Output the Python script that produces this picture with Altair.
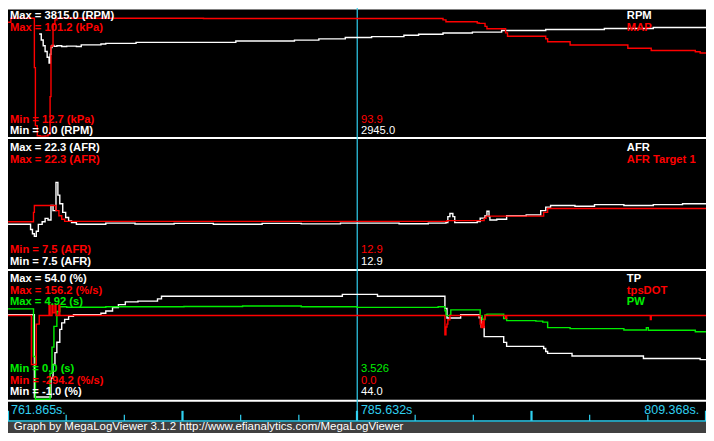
import altair as alt
import pandas as pd

# ---------------- data ----------------
T_START, T_CURSOR, T_END = 761.865, 785.632, 809.368

rpm_t = [763.99, 764.13, 764.26, 764.39, 764.53, 764.66, 764.73, 764.79, 764.86, 764.99,
         765.19, 765.52, 765.86, 766.52, 766.85, 768.19, 768.52, 770.58, 777.37, 781.36,
         783.02, 784.82, 786.61, 788.81, 789.81, 791.47, 793.47, 795.46, 798.46, 802.45,
         805.78, 809.37]
rpm_v = [3046, 2870, 2700, 2530, 2360, 2192, 2450, 2650, 2705, 2680,
         2700, 2676, 2690, 2676, 2725, 2753, 2770, 2799, 2838, 2867,
         2904, 2945, 2970, 3009, 3038, 3075, 3103, 3152, 3180, 3209,
         3237, 3237]

map_t = [761.87, 762.06, 763.60, 763.66, 763.73, 763.86, 764.06, 764.39, 764.59, 764.73,
         764.79, 764.93, 765.06, 765.19, 775.17, 785.63, 791.27, 791.47, 791.67, 793.80,
         793.93, 794.33, 794.46, 795.60, 795.73, 795.86, 798.46, 798.59, 800.12, 804.05,
         805.64, 808.64, 808.97, 809.37]
map_v = [91.4, 94.1, 94.1, 60.0, 20.0, 13.0, 12.7, 12.9, 13.8, 40.0,
         75.0, 90.0, 93.0, 94.1, 94.0, 93.9, 93.9, 93.0, 91.7, 90.8,
         90.6, 88.5, 86.9, 86.9, 84.0, 81.7, 80.0, 77.9, 75.7, 73.4,
         71.9, 71.0, 70.1, 70.1]

afr_t = [761.87, 763.20, 763.40, 763.53, 763.66, 763.79, 763.93, 764.19, 764.39, 764.59,
         764.79, 764.93, 765.13, 765.26, 765.39, 765.59, 765.79, 765.99, 766.19, 766.52,
         768.52, 770.51, 773.17, 775.84, 779.16, 781.82, 784.49, 785.63, 788.48, 790.47,
         791.67, 791.80, 791.94, 792.14, 792.27, 793.80, 794.00, 794.33, 794.46, 794.60,
         794.66, 795.13, 795.80, 797.13, 798.12, 798.46, 798.79, 800.45, 801.78, 803.78,
         805.78, 807.77, 809.37]
afr_v = [12.62, 12.62, 12.0, 11.5, 11.2, 11.8, 12.6, 12.9, 13.3, 13.1,
         14.8, 14.2, 17.48, 16.0, 15.0, 14.0, 13.4, 13.0, 12.8, 12.62,
         12.75, 12.65, 12.72, 12.62, 12.72, 12.66, 12.75, 12.75, 12.68, 12.75,
         12.8, 13.5, 13.86, 13.5, 12.8, 12.92, 13.33, 13.6, 14.12, 13.5,
         13.11, 13.2, 13.6, 13.7, 14.2, 14.6, 14.8, 14.7, 14.9, 14.8,
         14.9, 15.0, 14.9]

afrt_t = [761.87, 763.53, 763.60, 763.66, 764.99, 765.13, 765.33, 765.52, 765.72, 791.67,
          791.74, 794.27, 794.40, 798.12, 798.32, 798.59, 809.37]
afrt_v = [12.9, 12.9, 14.0, 14.8, 14.8, 14.2, 13.6, 13.2, 12.95, 12.95,
          13.03, 13.3, 13.56, 13.56, 14.0, 14.45, 14.45]

tp_t = [761.87, 763.53, 763.66, 764.66, 764.79, 764.93, 765.06, 765.19, 765.39, 765.52,
        765.72, 765.99, 766.32, 768.19, 768.52, 768.98, 769.38, 769.85, 770.71, 772.04,
        772.31, 784.62, 787.01, 791.60, 791.74, 792.67, 793.93, 794.07, 794.27, 795.60,
        795.80, 798.32, 798.46, 798.59, 800.25, 805.11, 808.97, 809.37]
tp_v = [35.3, 35.3, 0.0, 0.0, 8.0, 13.9, 19.0, 23.5, 29.0, 31.8,
        33.3, 34.6, 35.3, 35.9, 36.9, 38.4, 39.6, 40.8, 41.1, 42.1,
        43.2, 44.0, 43.2, 38.0, 33.9, 35.3, 34.0, 30.0, 25.9, 23.4,
        21.7, 20.8, 19.5, 18.7, 17.6, 16.5, 16.0, 16.0]

tpsdot_t = [761.87, 763.40, 763.46, 763.79, 763.99, 764.59, 764.66, 764.73, 764.86, 764.93,
            765.06, 765.13, 765.33, 765.39, 791.54, 791.60, 791.67, 791.74, 791.80, 791.94,
            794.00, 794.07, 794.13, 794.20, 794.27, 794.33, 795.73, 795.80, 805.58, 805.64,
            809.37]
tpsdot_v = [0, 0, -172, -30, 0, 0, 36.7, 0, 36.7, 10,
            36.7, 0, 36.7, 0, 0, -68, -40, -30, -15, 0,
            -30, -42, -20, -42, -10, 0, -10, 0, -14, 0,
            0]

pw_t = [761.87, 763.53, 763.60, 763.73, 764.66, 764.73, 764.86, 764.99, 765.19, 765.39,
        765.86, 768.52, 773.84, 777.83, 781.82, 785.63, 791.14, 791.60, 791.67, 791.94,
        792.00, 794.00, 794.13, 794.33, 794.46, 795.60, 795.80, 797.79, 798.26, 798.59,
        800.12, 803.78, 805.31, 805.44, 808.64, 809.37]
pw_v = [3.47, 3.47, 1.64, 0.0, 0.0, 1.0, 2.0, 2.8, 3.37, 3.55,
        3.53, 3.55, 3.56, 3.58, 3.55, 3.526, 3.55, 3.40, 3.21, 3.24,
        3.43, 3.20, 3.06, 3.24, 3.27, 3.10, 3.02, 3.00, 2.96, 2.75,
        2.71, 2.66, 2.75, 2.65, 2.59, 2.59]

# scale extents (the Min / Max of each series)
series_min = [[0.0, 12.7], [7.5, 7.5], [-1.0, -294.2, 0.0]]
series_max = [[3815.0, 101.2], [22.3, 22.3], [54.0, 156.2, 4.92]]

panel_names = [["RPM", "MAP"], ["AFR", "AFR Target 1"], ["TP", "tpsDOT", "PW"]]
max_labels = [["Max = 3815.0 (RPM)", "Max = 101.2 (kPa)"],
              ["Max = 22.3 (AFR)", "Max = 22.3 (AFR)"],
              ["Max = 54.0 (%)", "Max = 156.2 (%/s)", "Max = 4.92 (s)"]]
min_labels = [["Min = 0.0 (RPM)", "Min = 12.7 (kPa)"],
              ["Min = 7.5 (AFR)", "Min = 7.5 (AFR)"],
              ["Min = -1.0 (%)", "Min = -294.2 (%/s)", "Min = 0.0 (s)"]]
cursor_values = [["2945.0", "93.9"], ["12.9", "12.9"], ["44.0", "0.0", "3.526"]]

tick_t = [761.865, 765.824, 769.782, 773.741, 777.699, 781.658, 785.616,
          789.575, 793.533, 797.492, 801.451, 805.409, 809.368]
tick_major = [True, False, False, True, False, False, True,
              False, False, True, False, False, True]
time_labels = ["761.865s.", "785.632s", "809.368s."]
footer_text = "Graph by MegaLogViewer 3.1.2 http://www.efianalytics.com/MegaLogViewer"

series_data = [[(rpm_t, rpm_v), (map_t, map_v)],
               [(afr_t, afr_v), (afrt_t, afrt_v)],
               [(tp_t, tp_v), (tpsdot_t, tpsdot_v), (pw_t, pw_v)]]

# ---------------- layout / style ----------------
W, H = 698, 425
SX, SY = W / 714, H / 441


def X(x):
    return round(x * SX, 2)


def Y(y):
    return round(y * SY, 2)


WHITE, RED, GREEN = "#ffffff", "#ff0000", "#00ee00"
CYAN, GREY = "#30d0f0", "#404040"
FONT = "Liberation Sans"
LABEL_SIZE = 11.2
panel_colors = [[WHITE, RED], [WHITE, RED], [WHITE, RED, GREEN]]
# per-series pixel extents (reference px): bottom, top
panel_ranges = [[(134, 0), (133, 0)], [(270, 138), (270, 138)],
                [(406, 273), (406, 273), (406, 273)]]
panel_first_baseline = [11.5, 148.5, 284.5]
panel_last_baseline = [131, 266.5, 402]
LINE_STEP = 12
draw_order = [[0, 1], [0, 1], [0, 2, 1]]

xscale = alt.Scale(domain=[T_START, T_END], range=[0, W], nice=False, zero=False)
dummy = pd.DataFrame({"d": [0]})
layers = []


def hrule(y, color, width, x0=0, x1=714):
    return alt.Chart(dummy).mark_rule(color=color, strokeWidth=width).encode(
        x=alt.value(X(x0)), x2=alt.value(X(x1)), y=alt.value(Y(y)))


def label(s, x, y, color, size=LABEL_SIZE, bold=True, align="left"):
    return alt.Chart(pd.DataFrame({"s": [s]})).mark_text(
        align=align, baseline="alphabetic", font=FONT, fontSize=size,
        fontWeight="bold" if bold else "normal", color=color
    ).encode(x=alt.value(X(x)), y=alt.value(Y(y)), text="s:N")


# footer bar
layers.append(alt.Chart(dummy).mark_rect(color=GREY).encode(
    x=alt.value(0), x2=alt.value(W), y=alt.value(Y(429.5)), y2=alt.value(H)))

# frame / separators
layers.append(hrule(0.7, WHITE, 1.5))
for ys in [135.0, 271.8, 407.5]:
    layers.append(hrule(ys, WHITE, 2))
layers.append(hrule(428.5, CYAN, 1.6))

# cursor
layers.append(alt.Chart(pd.DataFrame({"t": [T_CURSOR]})).mark_rule(
    color=CYAN, strokeWidth=1.2).encode(
    x=alt.X("t:Q", scale=xscale, axis=None), y=alt.value(0), y2=alt.value(Y(428))))

# time ticks
ticks = pd.DataFrame({"t": tick_t, "major": tick_major})
layers.append(alt.Chart(ticks[~ticks.major]).mark_rule(color=CYAN, strokeWidth=1.2).encode(
    x=alt.X("t:Q", scale=xscale, axis=None), y=alt.value(Y(422)), y2=alt.value(Y(428.5))))
layers.append(alt.Chart(ticks[ticks.major]).mark_rule(color=CYAN, strokeWidth=2.2).encode(
    x=alt.X("t:Q", scale=xscale, axis=None), y=alt.value(Y(418)), y2=alt.value(Y(428.5))))

# series lines
for p in range(3):
    for i in draw_order[p]:
        ts, vs = series_data[p][i]
        bottom, top = panel_ranges[p][i]
        df = pd.DataFrame({"t": ts, "v": vs})
        layers.append(alt.Chart(df).mark_line(
            interpolate="step-after", color=panel_colors[p][i], strokeWidth=1.4
        ).encode(
            x=alt.X("t:Q", scale=xscale, axis=None),
            y=alt.Y("v:Q", axis=None, scale=alt.Scale(
                domain=[series_min[p][i], series_max[p][i]],
                range=[Y(bottom), Y(top)], nice=False, zero=False)),
        ))

# panel texts
for p in range(3):
    n = len(panel_names[p])
    for i in range(n):
        c = panel_colors[p][i]
        yb_top = panel_first_baseline[p] + i * LINE_STEP
        yb_bot = panel_last_baseline[p] - i * LINE_STEP
        layers.append(label(max_labels[p][i], 2, yb_top, c))
        layers.append(label(panel_names[p][i], 633, yb_top, c))
        layers.append(label(min_labels[p][i], 2, yb_bot, c))
        layers.append(label(cursor_values[p][i], 361, yb_bot, c, bold=False))

# time labels
layers.append(label(time_labels[0], 3, 421, CYAN, size=12.5, bold=False))
layers.append(label(time_labels[1], 361, 421, CYAN, size=12.5, bold=False))
layers.append(label(time_labels[2], 707, 421, CYAN, size=12.5, bold=False, align="right"))

# footer text
layers.append(label(footer_text, 6, 438, WHITE, size=11.5, bold=False))

chart = alt.layer(*layers).resolve_scale(y="independent").properties(
    width=W, height=H, padding=0,
    autosize=alt.AutoSizeParams(type="none"),
    background="black",
).configure_view(stroke=None)

chart.save("out.html", embed_options={"renderer": "svg", "actions": False})
